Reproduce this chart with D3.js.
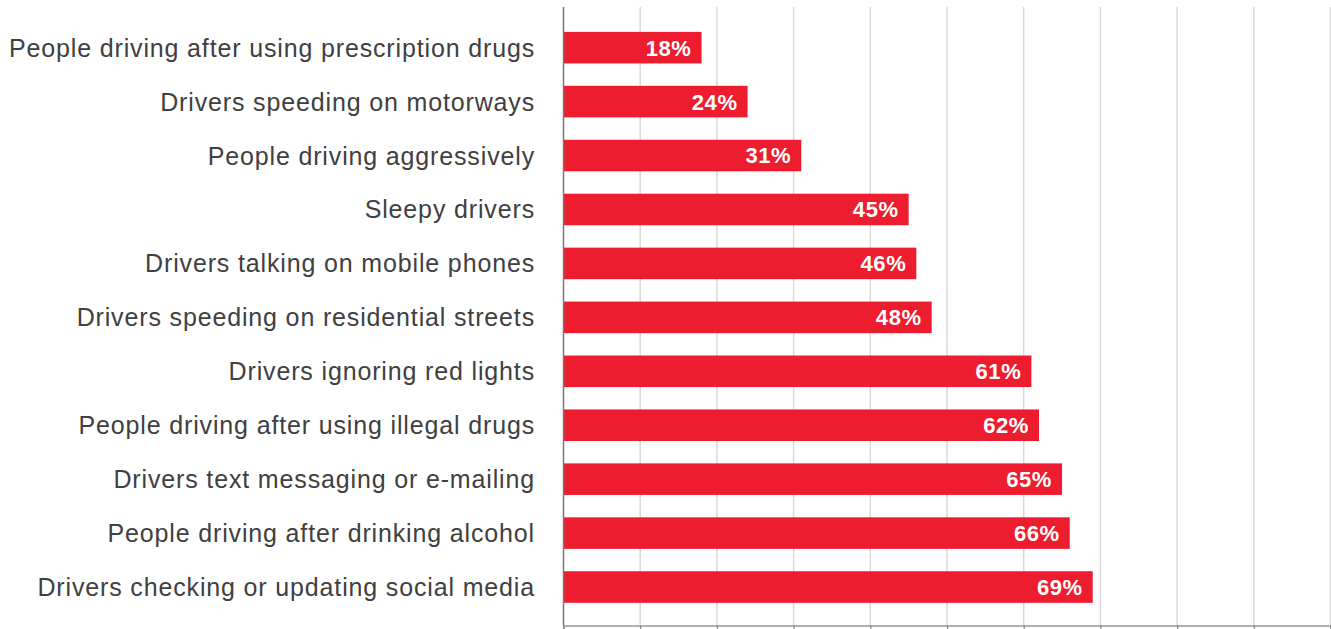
<!DOCTYPE html>
<html>
<head>
<meta charset="utf-8">
<script src="https://cdn.jsdelivr.net/npm/d3@7"></script>
<style>
  html, body { margin: 0; padding: 0; background: #fff; }
  svg { display: block; }
</style>
</head>
<body>
<svg id="chart" width="1331" height="629"></svg>
<script>
// Share of respondents, by behaviour
const categories = [
  "People driving after using prescription drugs",
  "Drivers speeding on motorways",
  "People driving aggressively",
  "Sleepy drivers",
  "Drivers talking on mobile phones",
  "Drivers speeding on residential streets",
  "Drivers ignoring red lights",
  "People driving after using illegal drugs",
  "Drivers text messaging or e-mailing",
  "People driving after drinking alcohol",
  "Drivers checking or updating social media"
];
const values = [18, 24, 31, 45, 46, 48, 61, 62, 65, 66, 69];
const gridTicks = [0, 10, 20, 30, 40, 50, 60, 70, 80, 90, 100];

const svg = d3.select("#chart");
const x0 = 563.5, x1 = 1330.5, yTop = 7, yBottom = 625.5;

const x = d3.scaleLinear().domain([0, 100]).range([x0, x1]);
const y = d3.scaleBand().domain(categories).range([20.7, 614])
  .paddingInner(0.415).paddingOuter(0.2075);

// vertical gridlines
svg.append("g").selectAll("line").data(gridTicks.slice(1)).join("line")
  .attr("x1", d => x(d)).attr("x2", d => x(d))
  .attr("y1", yTop).attr("y2", yBottom)
  .attr("stroke", "#d9d9d9").attr("stroke-width", 1.5);

// bars
svg.append("g").selectAll("rect").data(values).join("rect")
  .attr("x", x(0))
  .attr("y", (d, i) => y(categories[i]))
  .attr("width", d => x(d) - x(0))
  .attr("height", y.bandwidth())
  .attr("fill", "#ed1c2e");

// value labels inside bars
svg.append("g").selectAll("text").data(values).join("text")
  .attr("x", d => x(d) - 10)
  .attr("y", (d, i) => y(categories[i]) + y.bandwidth() / 2)
  .attr("dy", "0.36em")
  .attr("text-anchor", "end")
  .attr("fill", "#fff")
  .attr("font-family", "Liberation Sans, Arial, sans-serif")
  .attr("font-weight", "bold")
  .attr("font-size", 22)
  .attr("letter-spacing", 0.6)
  .text(d => d + "%");

// category labels
svg.append("g").selectAll("text").data(categories).join("text")
  .attr("x", 535)
  .attr("y", d => y(d) + y.bandwidth() / 2)
  .attr("dy", "0.36em")
  .attr("text-anchor", "end")
  .attr("fill", "#404040")
  .attr("font-family", "Liberation Sans, Arial, sans-serif")
  .attr("font-size", 25)
  .attr("letter-spacing", 0.85)
  .text(d => d);

// bottom axis with tick marks
const xAxis = svg.append("g")
  .attr("transform", `translate(0,${yBottom})`)
  .call(d3.axisBottom(x).tickValues(gridTicks).tickSize(5).tickFormat(""));
xAxis.select(".domain").attr("stroke", "#999").attr("stroke-width", 1.5);
xAxis.selectAll(".tick line").attr("stroke", "#888").attr("stroke-width", 1.3);

// vertical axis line
svg.append("line")
  .attr("x1", x0).attr("x2", x0).attr("y1", yTop).attr("y2", yBottom)
  .attr("stroke", "#777").attr("stroke-width", 1.5);
</script>
</body>
</html>
